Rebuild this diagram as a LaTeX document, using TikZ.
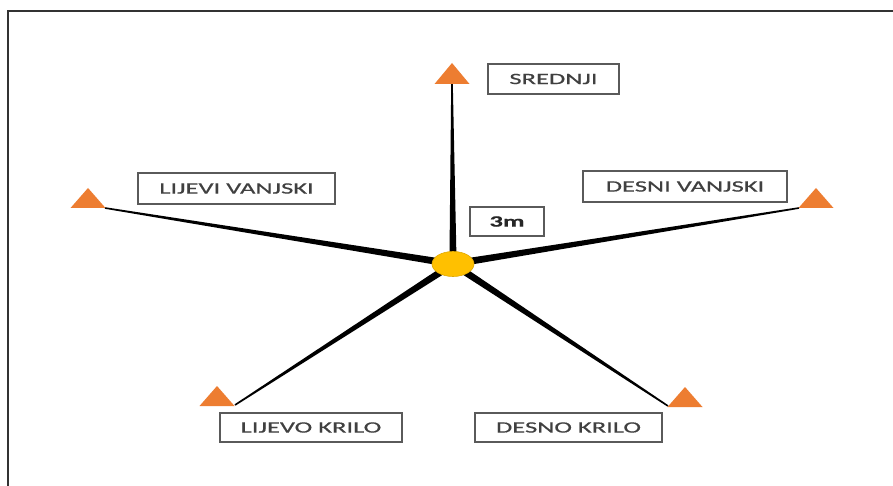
\documentclass[tikz,border=0pt]{standalone}
\usepackage{fontspec}
\setmainfont[FakeStretch=1.68,FakeBold=0.6]{Carlito}
\usetikzlibrary{calc,shapes.geometric}
\definecolor{triorange}{HTML}{ED7D31}
\definecolor{hubyellow}{HTML}{FFC000}
\definecolor{hubedge}{HTML}{E0A800}
\definecolor{boxgray}{HTML}{5A5A5A}
\definecolor{txtgray}{HTML}{404040}
\tikzset{
  labelbox/.style={draw=boxgray, line width=1.3pt, fill=white, text=txtgray, font=\fontsize{15.8}{17}\selectfont, inner sep=0pt, minimum height=30pt},
  tri/.style={fill=triorange, draw=none},
  spoke/.style={fill=black, draw=none},
}
\newcommand{\mytri}[2]{\fill[tri] ($(#1)+(-17.5,0)$) -- ($(#1)+(17.5,0)$) -- ($(#1)+(0,-#2)$) -- cycle;}
\newcommand{\myspoke}[2]{\fill[spoke] ($(#1)!3.6pt!90:(#2)$) -- ($(#2)!0.8pt!-90:(#1)$) -- ($(#2)!0.8pt!90:(#1)$) -- ($(#1)!3.6pt!-90:(#2)$) -- cycle;}
\begin{document}
\begin{tikzpicture}[x=1pt,y=-1pt]
\useasboundingbox (0,0) rectangle (893,486);
\fill[white] (0,0) rectangle (893,486);
% frame
\draw[line width=1.5pt, draw=black!80] (8,486) -- (8,11) -- (893,11);
% coordinates
\coordinate (c) at (453,264);
\coordinate (tTop) at (452,84);
\coordinate (tL) at (88,208);
\coordinate (tR) at (816,208);
\coordinate (tBL) at (217,406);
\coordinate (tBR) at (685,407);
\coordinate (eTop) at (452,84);
\coordinate (eL) at (105,208);
\coordinate (eR) at (799,208);
\coordinate (eBL) at (235,405);
\coordinate (eBR) at (668,406);
% spokes
\myspoke{c}{eTop}
\myspoke{c}{eL}
\myspoke{c}{eR}
\myspoke{c}{eBL}
\myspoke{c}{eBR}
% triangles
\mytri{tTop}{21}
\mytri{tL}{20}
\mytri{tR}{20}
\mytri{tBL}{20}
\mytri{tBR}{20}
% hub
\node (hub) [ellipse, fill=hubyellow, draw=hubedge, line width=0.6pt, minimum width=42pt, minimum height=25pt, inner sep=0pt] at (c) {};
% labels
\node (sred) [labelbox, minimum width=131pt] at (553.5,79) {SREDNJI};
\node (tri3) [labelbox, minimum width=74pt, minimum height=29pt, font=\fontsize{15.8}{17}\selectfont\bfseries, text=black!85] at (507,221.5) {3m};
\node (lv) [labelbox, minimum width=197pt, minimum height=31pt] at (236.5,188.5) {LIJEVI VANJSKI};
\node (dv) [labelbox, minimum width=204pt, minimum height=31pt] at (685,186.5) {DESNI VANJSKI};
\node (lk) [labelbox, minimum width=182pt, minimum height=29pt] at (311,427.5) {LIJEVO KRILO};
\node (dk) [labelbox, minimum width=187pt, minimum height=29pt] at (568.5,427.5) {DESNO KRILO};
\end{tikzpicture}
\end{document}
